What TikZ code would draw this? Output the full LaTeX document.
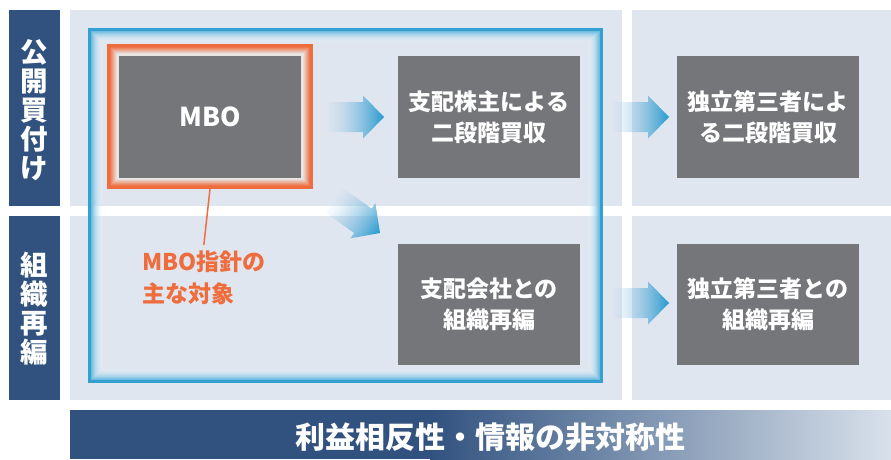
\documentclass[tikz,border=0pt]{standalone}
\usepackage{fontspec}
\setmainfont{Noto Sans CJK JP}
\usetikzlibrary{fadings}
\definecolor{panel}{RGB}{223,230,240}
\definecolor{navy}{RGB}{49,82,127}
\definecolor{boxgrey}{RGB}{117,118,122}
\definecolor{orng}{RGB}{239,108,60}
\definecolor{frameblue}{RGB}{52,160,210}
\definecolor{arrowblue}{RGB}{36,153,207}
\definecolor{arrowlight}{RGB}{165,202,230}
\definecolor{bannerlight}{RGB}{216,225,235}
\definecolor{glowgrey}{RGB}{232,229,229}
\tikzfading[name=arrowfade, left color=transparent!95, middle color=transparent!10, right color=transparent!0]
\tikzset{
  greybox/.style={fill=boxgrey, text=white, minimum width=182pt, minimum height=122pt,
    inner sep=0pt, outer sep=0pt, align=center, font=\fontsize{23}{31}\selectfont\bfseries},
  sidelabel/.style={text=white, align=center, inner sep=0pt, font=\fontsize{27.5}{29}\selectfont\bfseries},
  barrow/.pic={
    \shade[left color=arrowlight, right color=arrowblue, path fading=arrowfade]
      (-56,-15) -- (-21,-15) -- (-21,-21.5) -- (0,0) -- (-21,21.5) -- (-21,15) -- (-56,15) -- cycle;
  }
}
\begin{document}
\begin{tikzpicture}[x=1pt,y=-1pt]
\useasboundingbox (0,0) rectangle (891,459);
\fill[white] (0,0) rectangle (891,459);
% panels
\fill[panel] (70,10) rectangle (622,206);
\fill[panel] (632,10) rectangle (891,206);
\fill[panel] (70,216) rectangle (622,400);
\fill[panel] (632,216) rectangle (891,400);
% side bars
\fill[navy] (9,10) rectangle (60,206);
\fill[navy] (9,216) rectangle (60,400);
\node[sidelabel] (tob) at (34.5,110) {公\\開\\買\\付\\け};
\node[sidelabel] (reorg) at (34.5,309) {組\\織\\再\\編};
% banner
\fill[navy] (70,410) rectangle (431,459);
\shade[left color=navy, right color=bannerlight] (430,410) rectangle (891,459);
\node[text=white, inner sep=0pt, font=\fontsize{30}{30}\selectfont\bfseries] (banner) at (490.5,437) {利益相反性・情報の非対称性};
% blue glow frame
\foreach \i in {0,...,14}{
  \pgfmathtruncatemacro\mix{\i<3 ? 100 : 72-(\i-3)*6}
  \pgfmathsetmacro\op{\i<3 ? 1 : 1-(\i-3)/12}
  \draw[line width=1.1pt, draw=frameblue!\mix!white, draw opacity=\op]
    ({88+\i+0.5},{28+\i+0.5}) rectangle ({603-\i-0.5},{383-\i-0.5});
}
% orange frame
\node[fill=glowgrey, draw=orng, line width=3pt, minimum width=203pt, minimum height=142pt,
  inner sep=0pt, outer sep=1.5pt] (mboframe) at (210,116.5) {};
\foreach \i in {3,...,9}{
  \pgfmathtruncatemacro\mix{90-(\i-3)*14}
  \draw[line width=1.1pt, draw=orng!\mix!glowgrey]
    ({107+\i+0.5},{44+\i+0.5}) rectangle ({313-\i-0.5},{189-\i-0.5});
}
% boxes
\node[greybox, font=\fontsize{26}{30}\selectfont\bfseries] (mbo) at (210,117) {MBO};
\node[greybox] (b1) at (489,117) {支配株主による\\二段階買収};
\node[greybox] (b2) at (768,117) {独立第三者によ\\る二段階買収};
\node[greybox, minimum height=121pt] (b3) at (489,304.5) {支配会社との\\組織再編};
\node[greybox, minimum height=121pt] (b4) at (768,304.5) {独立第三者との\\組織再編};
% arrows
\pic at (384,117) {barrow};
\pic at (669,117) {barrow};
\pic at (669,303) {barrow};
\begin{scope}[transform canvas={shift={(380,233)}, rotate=-35.5}]
  \pic at (0,0) {barrow};
\end{scope}
% label
\node[anchor=north west, inner sep=0pt, align=left, text=orng,
  font=\fontsize{23}{32}\selectfont\bfseries] (lab) at (142,251) {MBO指針の\\主な対象};
\draw[orng, line width=1.5pt] (mboframe.south) -- ([yshift=6pt]lab.north);
\end{tikzpicture}
\end{document}
